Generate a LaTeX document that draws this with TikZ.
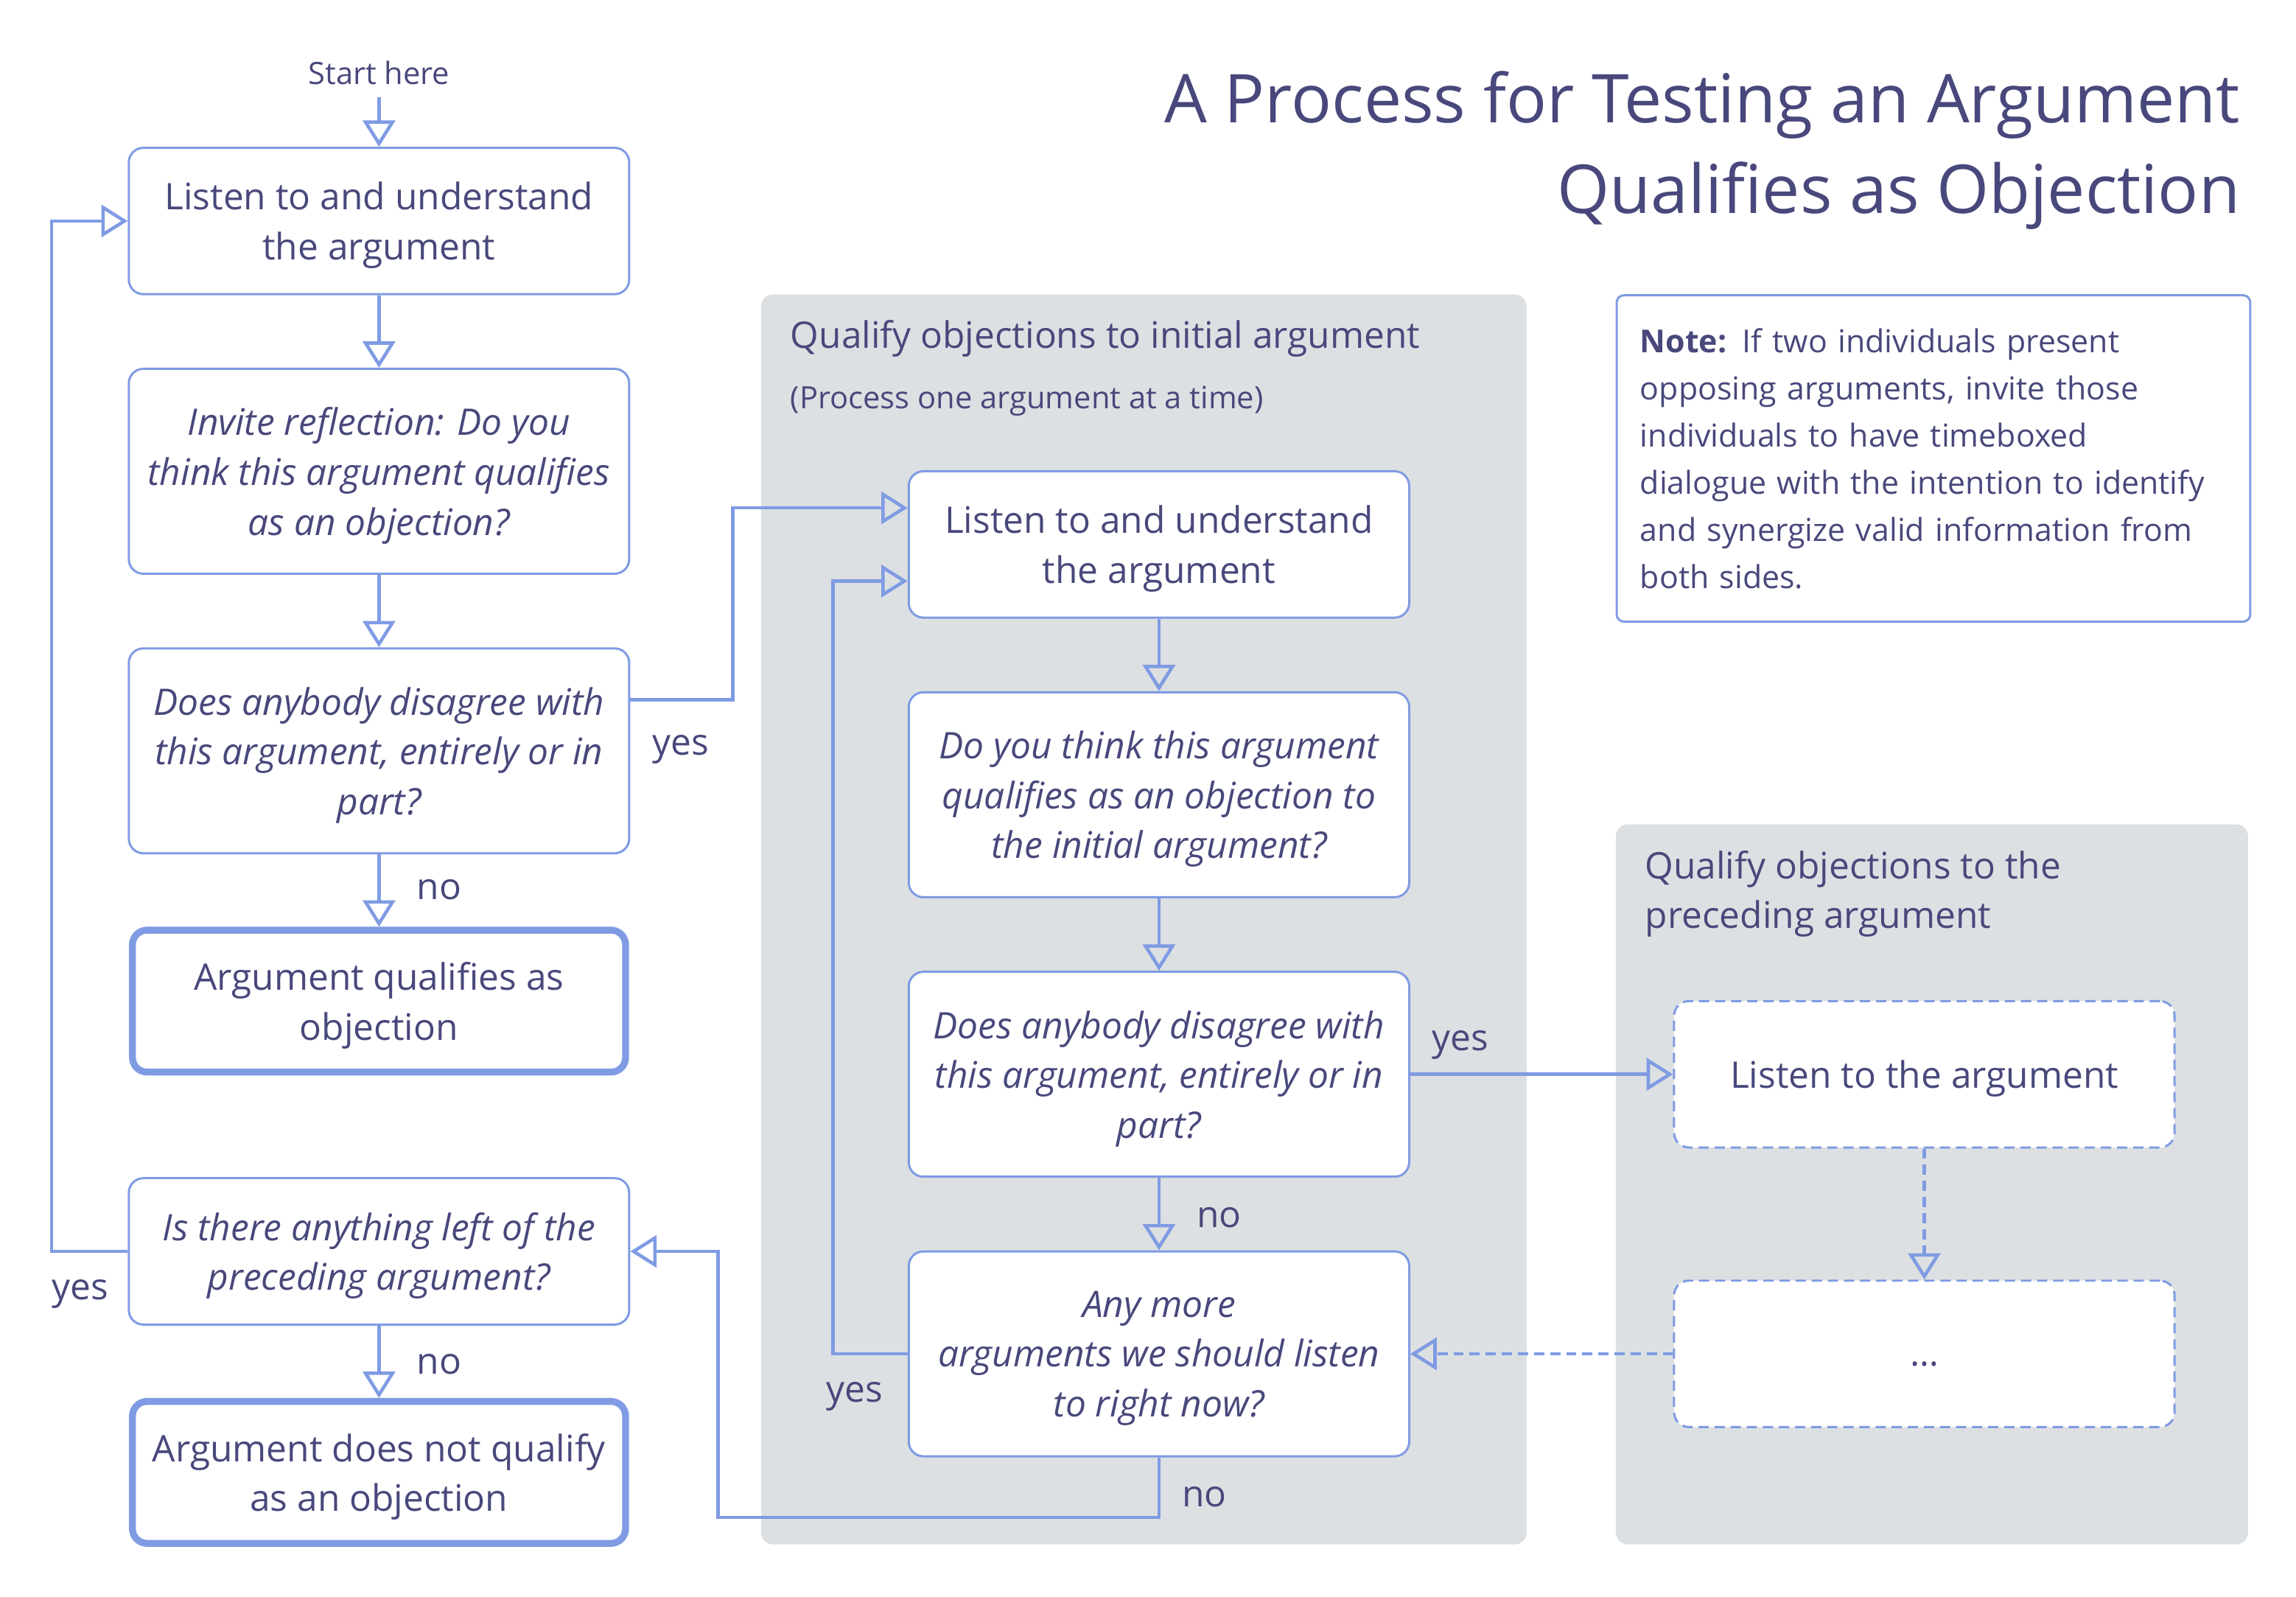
\documentclass[tikz,border=0pt]{standalone}
\usepackage{fontspec}
\setmainfont{Open Sans}
\usepackage{tikz}
\usetikzlibrary{positioning,arrows.meta}
\definecolor{lineblue}{RGB}{127,155,227}
\definecolor{inkblue}{RGB}{72,72,124}
\definecolor{panelgray}{RGB}{221,224,226}
\tikzstyle{arrow} = [line width=2.3pt, draw=lineblue, -{Triangle[open, length=18pt, width=22pt]}]

\begin{document}
\begin{tikzpicture}[x=1pt, y=1pt, node distance=171pt, font=\fontsize{25}{34}\selectfont, text=inkblue]
			\tikzstyle{box} = [rectangle, rounded corners=10pt, draw=lineblue, line width=1.5pt, fill=white, align=center, minimum height=100pt, minimum width=342pt, inner sep=0pt, text depth=-2pt]
			\tikzstyle{question} = [box, minimum height=140pt, font=\fontsize{25}{34}\selectfont\itshape]
			\tikzstyle{result} = [box, line width=4.7pt, minimum width=337pt, minimum height=97pt]
			\tikzstyle{later} = [box, dash pattern=on 7pt off 4pt]
			\tikzstyle{panel} = [rectangle, rounded corners=8pt, fill=panelgray, inner sep=0pt, anchor=north west]
			\tikzstyle{lbl} = [inner sep=0pt]
			\useasboundingbox (0,0) rectangle (1569,-1091);
			\node (initial) [panel, minimum width=523pt, minimum height=854pt] at (520,-201) {};
			\node (preceding) [panel, minimum width=432pt, minimum height=492pt] at (1104,-563) {};
			\node (initialtitle) [lbl, anchor=west] at (540,-231.5) {Qualify objections to initial argument};
			\node (initialhint) [lbl, anchor=west, font=\fontsize{21}{28}\selectfont] at (540,-274) {(Process one argument at a time)};
			\node (precedingtitle) [lbl, anchor=north west, align=left] at (1124,-581) {Qualify objections to the\\preceding argument};
			\node (title) [lbl, anchor=north east, align=right, font=\fontsize{46}{62}\selectfont] at (1531,-48.5) {A Process for Testing an Argument\\Qualifies as Objection};
			\node (note) [rectangle, rounded corners=5pt, draw=lineblue, line width=1.5pt, anchor=north west, minimum width=433pt, minimum height=223pt, text width=401pt, align=left, inner sep=16pt, font=\fontsize{21.6}{32.2}\selectfont] at (1104,-201) {\textbf{Note:} If two individuals present\\opposing arguments, invite those\\individuals to have timeboxed\\dialogue with the intention to identify\\and synergize valid information from\\both sides.};
			\node (start) [lbl, font=\fontsize{21}{24}\selectfont] at (259,-50) {Start here};
			\node (listen) [box] at (259,-151) {Listen to and understand\\the argument};
			\node (invite) [question, below of=listen] {Invite reflection: Do you\\think this argument qualifies\\as an objection?};
			\node (disagree) [question, below of=invite, node distance=191pt] {Does anybody disagree with\\this argument, entirely or in\\part?};
			\node (qualifies) [result, below of=disagree] {Argument qualifies as\\objection};
			\node (leftover) [box, below of=qualifies, font=\fontsize{25}{34}\selectfont\itshape] {Is there anything left of the\\preceding argument?};
			\node (notqualify) [result, below of=leftover, node distance=151pt] {Argument does not qualify\\as an objection};
			\node (listentwo) [box] at (792,-372) {Listen to and understand\\the argument};
			\node (thinktwo) [question, below of=listentwo] {Do you think this argument\\qualifies as an objection to\\the initial argument?};
			\node (disagreetwo) [question, below of=thinktwo, node distance=191pt] {Does anybody disagree with\\this argument, entirely or in\\part?};
			\node (anymore) [question, below of=disagreetwo, node distance=191pt] {Any more\\arguments we should listen\\to right now?};
			\node (listenthree) [later] at (1315,-734) {Listen to the argument};
			\node (dots) [later, below of=listenthree, node distance=191pt, text height=19pt, text depth=2pt] {\dots};
			\node (yesone) [lbl] at (465,-512) {yes};
			\node (noone) [lbl] at (300,-608) {no};
			\node (notwo) [lbl] at (300,-932) {no};
			\node (yestwo) [lbl] at (55,-884) {yes};
			\node (yesthree) [lbl] at (998,-714) {yes};
			\node (nothree) [lbl] at (833,-832) {no};
			\node (yesfour) [lbl] at (584,-954) {yes};
			\node (nofour) [lbl] at (823,-1023) {no};
			\draw [arrow] ([yshift=-8pt]start.south) -- (listen);
			\draw [arrow] (listen) -- (invite);
			\draw [arrow] (invite) -- (disagree);
			\draw [arrow] (disagree) -- (qualifies);
			\draw [arrow] (leftover) -- (notqualify);
			\draw [arrow] ([yshift=35pt]disagree.east) -- ++(70,0) |- ([yshift=25pt]listentwo.west);
			\draw [arrow] (leftover.west) -- ++(-52,0) |- (listen.west);
			\draw [arrow] (listentwo) -- (thinktwo);
			\draw [arrow] (thinktwo) -- (disagreetwo);
			\draw [arrow] (disagreetwo) -- (anymore);
			\draw [arrow] (anymore.west) -- ++(-51,0) |- ([yshift=-25pt]listentwo.west);
			\draw [arrow] (anymore.south) -- ++(0,-41) -| ([xshift=60pt]leftover.east) -- (leftover.east);
			\draw [arrow] (disagreetwo) -- (listenthree);
			\draw [arrow, dash pattern=on 7pt off 4pt] (listenthree) -- (dots);
			\draw [arrow, dash pattern=on 7pt off 4pt] (dots) -- (anymore);
		\end{tikzpicture}
\end{document}
